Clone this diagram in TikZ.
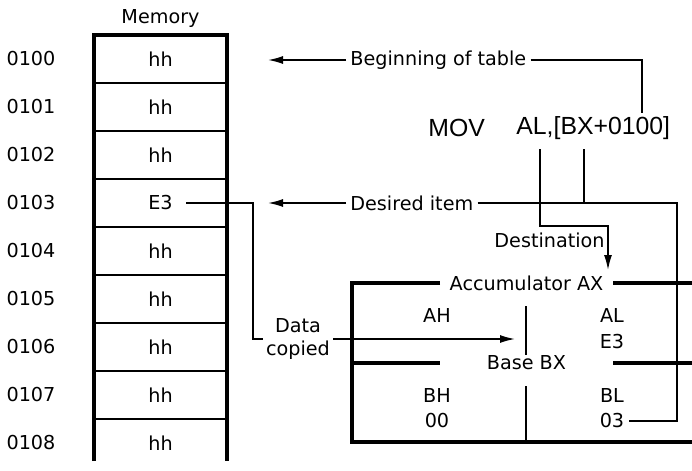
\documentclass[tikz,border=0pt]{standalone}
\usepackage{fontspec}
\setmainfont{DejaVu Sans}
\newfontfamily\instrfont{Liberation Sans}
\usetikzlibrary{arrows.meta,positioning,calc}
\tikzset{
  lbl/.style={inner sep=2pt,font=\fontsize{9.6}{11.5}\selectfont},
  instr/.style={inner sep=1pt,font=\instrfont\fontsize{12.4}{14}\selectfont},
  wire/.style={line width=0.8pt},
  ptr/.style={wire,-{Latex[length=7.5pt,width=4pt]}},
  memside/.style={line width=1.6pt},
  rowline/.style={line width=0.9pt},
  regline/.style={line width=1.6pt},
  divline/.style={line width=0.8pt}
}
\begin{document}
\begin{tikzpicture}[x=0.5pt,y=-0.5pt]
  \useasboundingbox (0,0) rectangle (692,471);

  % memory column
  \node[lbl] (memtitle) at (160.5,18) {Memory};
  \foreach \i/\v in {0/hh,1/hh,2/hh,3/E3,4/hh,5/hh,6/hh,7/hh,8/hh} {
    \node[lbl] (addr\i) at (31,59+48*\i) {010\i};
    \node[lbl] (cell\i) at (160.5,59+48*\i) {\v};
  }
  \foreach \i in {1,...,8}
    \draw[rowline] (94,35+48*\i) -- (227,35+48*\i);
  \draw[memside] (94,461) -- (94,35) -- (227,35) -- (227,461);

  % labels and instruction
  \node[lbl,anchor=west] (begin) at (346,60) {Beginning of table};
  \node[lbl,anchor=west] (desired) at (346,203) {Desired item};
  \node[instr,anchor=west] (mov) at (426,128) {MOV};
  \node[instr,anchor=west] (operand) at (514,128) {AL,[BX+0100]};
  \node[lbl] (dest) at (549.5,240) {Destination};
  \node[lbl,align=center,inner sep=1.5pt] (copied) at (298,339) {Data\\copied};

  % registers
  \node[lbl] (accax) at (526.5,283) {Accumulator AX};
  \node[lbl] (basebx) at (526.5,363) {Base BX};
  \node[lbl] (ah) at (437,315) {AH};
  \node[lbl] (al) at (612,315) {AL};
  \node[lbl] (alval) at (612,342) {E3};
  \node[lbl] (bh) at (437,395) {BH};
  \node[lbl] (bhval) at (437,421) {00};
  \node[lbl] (bl) at (612,395) {BL};
  \node[lbl] (blval) at (612,421) {03};

  \draw[regline] (440,283) -- (352,283) -- (352,442) -- (692,442);
  \draw[regline] (613,283) -- (692,283);
  \draw[regline] (352,363) -- (440,363);
  \draw[regline] (613,363) -- (692,363);
  \draw[divline] (526,306) -- (526,355);
  \draw[divline] (526,386) -- (526,442);

  % free ends
  \coordinate (tbltip) at (268,60);
  \coordinate (itemtip) at (268,203);
  \coordinate (dispref) at (642,113);
  \coordinate (alref) at (540,149);
  \coordinate (bxref) at (584,149);
  \coordinate (bxjoin) at (584,203);
  \coordinate (bendr) at (677,300);
  \coordinate (dstbend) at (608,226);
  \coordinate (acctip) at (608,270);
  \coordinate (datadrop) at (253,270);
  \coordinate (ahtip) at (515,340);

  % connectors
  \draw[ptr] (begin.west) -- (tbltip);
  \draw[ptr] (desired.west) -- (itemtip);
  \draw[wire] (begin.east) -| (dispref);
  \draw[wire] (desired.east) -| (bendr) |- (blval.east);
  \draw[wire] (bxref) -- (bxjoin);
  \draw[ptr] (alref) |- (dstbend) -- (acctip);
  \draw[wire] ([xshift=4.5pt]cell3.east) -| (datadrop) |- (copied.west);
  \draw[ptr] (copied.east) -- (copied.east -| ahtip);

\end{tikzpicture}
\end{document}
